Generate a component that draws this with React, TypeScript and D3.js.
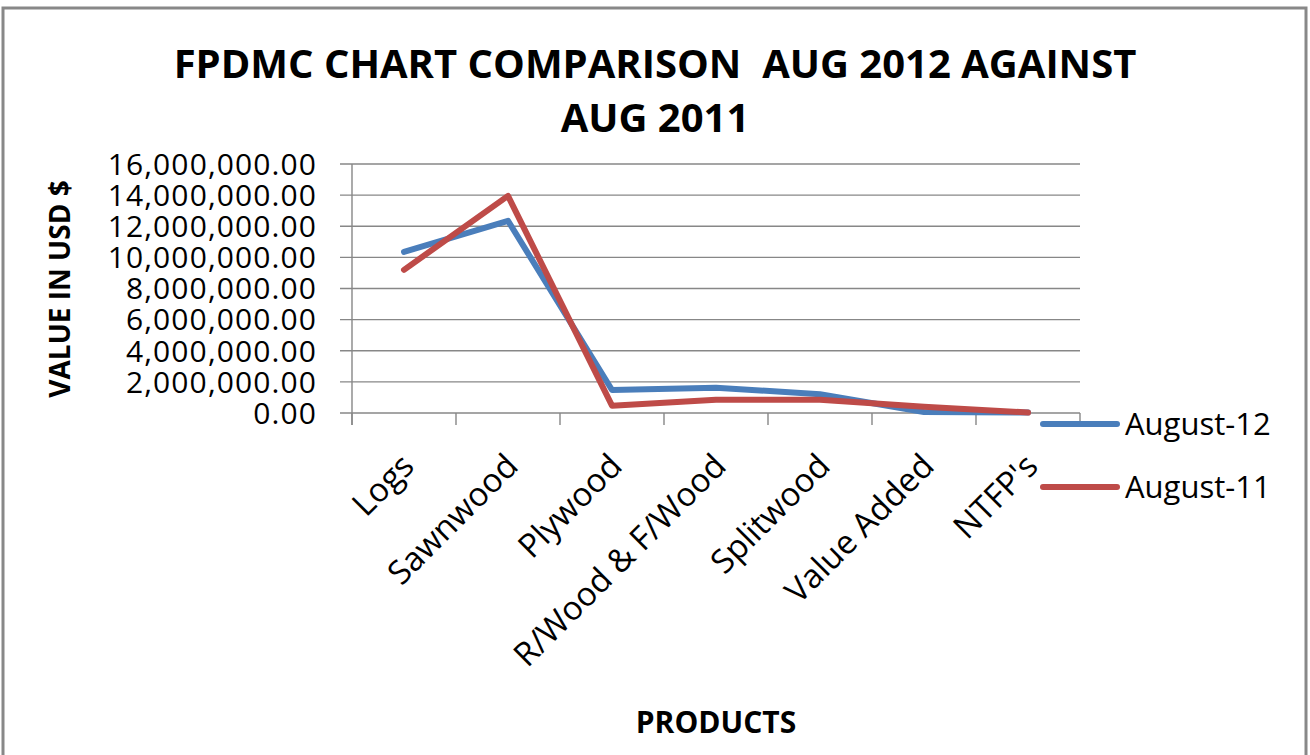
import * as d3 from 'd3';

const categories = [
  'Logs',
  'Sawnwood',
  'Plywood',
  'R/Wood & F/Wood',
  'Splitwood',
  'Value Added',
  "NTFP's",
];
const august12 = [10350000, 12350000, 1480000, 1630000, 1200000, 60000, 30000];
const august11 = [9200000, 13950000, 470000, 850000, 850000, 400000, 30000];
const seriesNames = ['August-12', 'August-11'];
const seriesColors = ['#4a7ebb', '#be4b48'];
const yTicks = [0, 2e6, 4e6, 6e6, 8e6, 10e6, 12e6, 14e6, 16e6];

const W = 1310;
const H = 755;
const FONT = "'Open Sans', 'Noto Sans', sans-serif";
const GRID = '#878787';

export default function App() {
  const x = d3.scaleBand<string>().domain(categories).range([352, 1080]);
  const y = d3.scaleLinear().domain([0, 16e6]).range([413, 164]);
  const fmt = d3.format(',.2f');
  const line = d3
    .line<number>()
    .x((_, i) => (x(categories[i]) ?? 0) + x.bandwidth() / 2)
    .y((v) => y(v));
  const series = [august12, august11];
  const edges = categories.map((c) => x(c) ?? 0).concat([x.range()[1]]);

  return (
    <svg
      width={W}
      height={H}
      style={{ position: 'fixed', left: 0, top: 0, background: '#fff' }}
      fontFamily={FONT}
    >
      <rect x={3} y={8} width={1303} height={770} fill="#fff" stroke="#888" strokeWidth={3} />

      <text
        x={655}
        y={78}
        textAnchor="middle"
        fontSize={40}
        fontWeight={700}
        fill="#000"
        style={{ whiteSpace: 'pre' }}
      >
        {'FPDMC CHART COMPARISON  AUG 2012 AGAINST'}
      </text>
      <text x={655} y={132} textAnchor="middle" fontSize={40} fontWeight={700} fill="#000">
        AUG 2011
      </text>

      {/* gridlines + y ticks */}
      {yTicks.map((t) => (
        <g key={t}>
          <line x1={340} x2={1080} y1={y(t)} y2={y(t)} stroke={GRID} strokeWidth={1.4} />
          <text
            x={317}
            y={y(t)}
            dy="0.36em"
            textAnchor="end"
            fontSize={30}
            letterSpacing={1.1}
            fill="#000"
          >
            {fmt(t)}
          </text>
        </g>
      ))}
      <line x1={352} x2={352} y1={164} y2={425} stroke={GRID} strokeWidth={1.4} />
      {edges.map((e, i) => (
        <line key={i} x1={e} x2={e} y1={413} y2={425} stroke={GRID} strokeWidth={1.4} />
      ))}

      {categories.map((c) => {
        const cx = (x(c) ?? 0) + x.bandwidth() / 2;
        return (
          <text
            key={c}
            transform={`translate(${cx + 12},${468}) rotate(-45)`}
            textAnchor="end"
            fontSize={33}
            fill="#000"
          >
            {c}
          </text>
        );
      })}

      {series.map((s, i) => (
        <path
          key={seriesNames[i]}
          d={line(s) ?? ''}
          fill="none"
          stroke={seriesColors[i]}
          strokeWidth={6}
          strokeLinejoin="round"
          strokeLinecap="round"
        />
      ))}

      {seriesNames.map((n, i) => (
        <g key={n}>
          <line
            x1={1043}
            x2={1117}
            y1={424 + i * 63}
            y2={424 + i * 63}
            stroke={seriesColors[i]}
            strokeWidth={6}
            strokeLinecap="round"
          />
          <text x={1125} y={424 + i * 63} dy="0.36em" fontSize={31} fill="#000">
            {n}
          </text>
        </g>
      ))}

      <text
        transform="translate(60,289) rotate(-90)"
        dy="0.36em"
        textAnchor="middle"
        fontSize={28}
        fontWeight={700}
        fill="#000"
      >
        VALUE IN USD $
      </text>
      <text x={716} y={733} textAnchor="middle" fontSize={30} fontWeight={700} fill="#000">
        PRODUCTS
      </text>
    </svg>
  );
}
